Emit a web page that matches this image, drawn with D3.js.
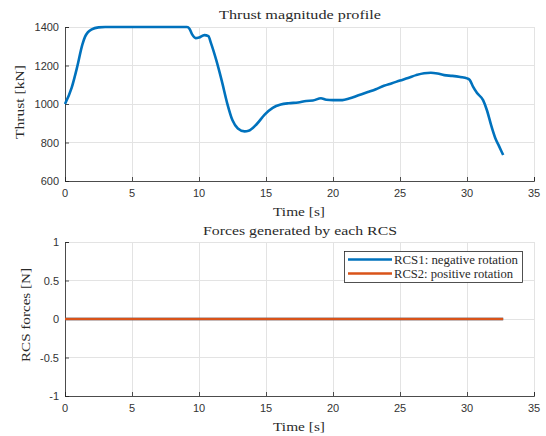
<!DOCTYPE html>
<html>
<head>
<meta charset="utf-8">
<script src="https://cdn.jsdelivr.net/npm/d3@7/dist/d3.min.js"></script>
<style>
  html, body { margin: 0; padding: 0; background: #fff; }
  svg { display: block; }
  .tick-label { font-family: "Liberation Sans", Arial, sans-serif; font-size: 11px; fill: #333; }
  .serif { font-family: "Liberation Serif", "Times New Roman", serif; fill: #2a2a2a; }
</style>
</head>
<body>
<svg id="chart" width="546" height="436"></svg>
<script>
// Thrust magnitude over time [s] -> [kN]
const thrustTime = [0, 0.5, 0.9, 1.3, 1.5, 1.7, 2.0, 2.5, 3.0, 9.1, 9.3, 9.5, 9.75, 10.0, 10.4, 10.7, 10.9,
  11.3, 11.7, 12.1, 12.5, 12.9, 13.4, 13.7, 14.3, 14.9, 15.5, 16.1, 16.7, 17.4, 18.0, 18.5, 19.1, 19.5,
  20.0, 20.7, 21.2, 21.9, 22.6, 23.2, 23.8, 24.4, 25.0, 25.6, 26.2, 26.8, 27.3, 27.8, 28.3, 28.9, 29.5,
  30.0, 30.2, 30.45, 30.75, 31.2, 31.5, 31.8, 32.1, 32.4, 32.7];
const thrustKN = [1000, 1085, 1190, 1310, 1350, 1372, 1388, 1398, 1400, 1400, 1390, 1360, 1342, 1345, 1358, 1352, 1315,
  1225, 1120, 1005, 915, 873, 858, 861, 895, 945, 980, 997, 1004, 1008, 1016, 1018, 1030, 1022,
  1020, 1020, 1028, 1045, 1062, 1077, 1095, 1108, 1122, 1135, 1150, 1160, 1162, 1158, 1150, 1146, 1140,
  1133, 1125, 1090, 1057, 1020, 965, 890, 825, 780, 735];

// RCS forces [N]
const rcsTime = [0, 32.7];
const rcs1Force = [0, 0];
const rcs2Force = [0, 0];

const xTicks = [0, 5, 10, 15, 20, 25, 30, 35];
const thrustTicks = [600, 800, 1000, 1200, 1400];
const rcsTicks = [-1, -0.5, 0, 0.5, 1];
const legendLabels = ["RCS1: negative rotation", "RCS2: positive rotation"];
const seriesColors = ["#0072BD", "#D95319"];

const svg = d3.select("#chart");
const axisColor = "#262626";
const gridColor = "#e3e3e3";

function serifText(g, x, y, str, size, width, anchor, rotate) {
  const t = g.append("text")
    .attr("class", "serif")
    .attr("x", x).attr("y", y)
    .attr("font-size", size)
    .attr("text-anchor", anchor || "middle")
    .text(str);
  if (width) t.attr("textLength", width).attr("lengthAdjust", "spacingAndGlyphs");
  if (rotate) t.attr("transform", `rotate(${rotate},${x},${y})`);
  return t;
}

function panel(opts) {
  const x = d3.scaleLinear().domain([0, 35]).range([65, 534]);
  const y = d3.scaleLinear().domain(opts.yDomain).range([opts.bottom, opts.top]);
  const g = svg.append("g");

  // grid
  g.selectAll(".gx").data(xTicks).join("line")
    .attr("x1", d => x(d)).attr("x2", d => x(d))
    .attr("y1", opts.top).attr("y2", opts.bottom)
    .attr("stroke", gridColor).attr("stroke-width", 1).attr("shape-rendering", "crispEdges");
  g.selectAll(".gy").data(opts.yTicks).join("line")
    .attr("x1", 65).attr("x2", 534)
    .attr("y1", d => y(d)).attr("y2", d => y(d))
    .attr("stroke", gridColor).attr("stroke-width", 1).attr("shape-rendering", "crispEdges");

  // axes (ticks point inward)
  const xAxis = d3.axisTop(x).tickValues(xTicks).tickSize(4).tickFormat("");
  const yAxis = d3.axisRight(y).tickValues(opts.yTicks).tickSize(4).tickFormat("");
  const gx = g.append("g").attr("transform", `translate(0,${opts.bottom})`).call(xAxis);
  const gy = g.append("g").attr("transform", `translate(65,0)`).call(yAxis);
  [gx, gy].forEach(a => {
    a.selectAll("path").attr("stroke", axisColor).attr("stroke-width", 0.8);
    a.selectAll("line").attr("stroke", axisColor).attr("stroke-width", 0.8);
  });

  // tick labels
  g.selectAll(".xl").data(xTicks).join("text")
    .attr("class", "tick-label")
    .attr("x", d => x(d)).attr("y", opts.bottom + 16)
    .attr("text-anchor", "middle").text(d => d);
  g.selectAll(".yl").data(opts.yTicks).join("text")
    .attr("class", "tick-label")
    .attr("x", 59).attr("y", d => y(d) + 4)
    .attr("text-anchor", "end").text(d => d);

  return { x, y, g };
}

// Upper panel: thrust magnitude
const thrustPanel = panel({ yDomain: [600, 1400], yTicks: thrustTicks, top: 27, bottom: 181 });
const thrustData = thrustTime.map((t, i) => [t, thrustKN[i]]);
thrustPanel.g.append("path")
  .datum(thrustData)
  .attr("fill", "none")
  .attr("stroke", seriesColors[0])
  .attr("stroke-width", 2.6)
  .attr("stroke-linejoin", "round")
  .attr("d", d3.line().x(d => thrustPanel.x(d[0])).y(d => thrustPanel.y(d[1])).curve(d3.curveMonotoneX));
serifText(thrustPanel.g, 300, 19, "Thrust magnitude profile", 13, 162);
serifText(thrustPanel.g, 299, 216, "Time [s]", 13, 52);
serifText(thrustPanel.g, 24, 102, "Thrust [kN]", 13, 74, "middle", -90);

// Lower panel: RCS forces
const rcsPanel = panel({ yDomain: [-1, 1], yTicks: rcsTicks, top: 242, bottom: 396 });
const rcsSeries = [rcs1Force, rcs2Force];
rcsSeries.forEach((vals, k) => {
  rcsPanel.g.append("path")
    .datum(rcsTime.map((t, i) => [t, vals[i]]))
    .attr("fill", "none")
    .attr("stroke", seriesColors[k])
    .attr("stroke-width", 2.6)
    .attr("d", d3.line().x(d => rcsPanel.x(d[0])).y(d => rcsPanel.y(d[1])));
});
serifText(rcsPanel.g, 300, 235, "Forces generated by each RCS", 13, 194);
serifText(rcsPanel.g, 299, 431, "Time [s]", 13, 52);
serifText(rcsPanel.g, 29.5, 315, "RCS forces [N]", 13, 94, "middle", -90);

// Legend
const lg = svg.append("g");
lg.append("rect")
  .attr("x", 344.5).attr("y", 251.5).attr("width", 178).attr("height", 31)
  .attr("fill", "#fff").attr("stroke", axisColor).attr("stroke-width", 0.8);
legendLabels.forEach((lab, i) => {
  const yy = 259.5 + i * 14;
  lg.append("line")
    .attr("x1", 348).attr("x2", 392).attr("y1", yy).attr("y2", yy)
    .attr("stroke", seriesColors[i]).attr("stroke-width", 2.6);
  serifText(lg, 394, yy + 4, lab, 12, i === 0 ? 124 : 119, "start");
});
</script>
</body>
</html>
